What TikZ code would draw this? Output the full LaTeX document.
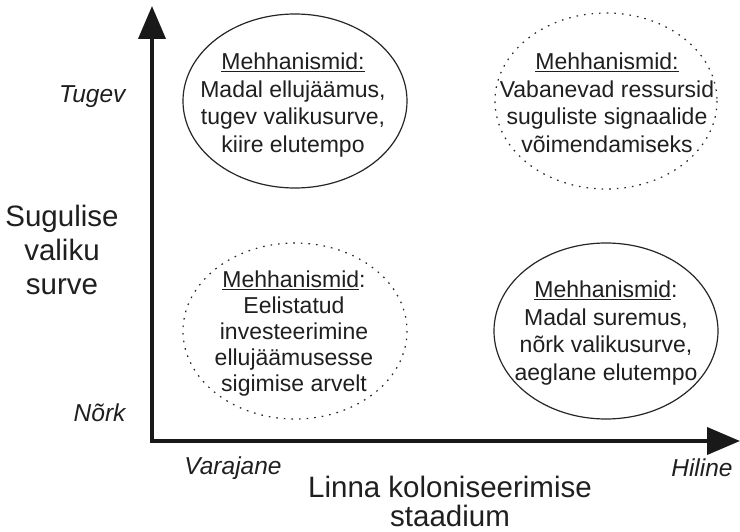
\documentclass[tikz,border=0pt]{standalone}
\usepackage{fontspec}
\setmainfont{Liberation Sans}
\usetikzlibrary{arrows.meta}
\begin{document}
\begin{tikzpicture}[x=1pt,y=-1pt,
  txt/.style={text=black!88, font=\fontsize{23}{27.5}\selectfont, align=center, inner sep=0pt},
  ring/.style={draw=black!85, line width=1.2pt},
  dotring/.style={ring, dash pattern=on 1.6pt off 6pt},
  axis/.style={line width=4pt, draw=black!90, -{Triangle[length=33pt,width=27pt]}},
  tick/.style={text=black!88, font=\fontsize{24.5}{28}\selectfont\itshape},
  big/.style={text=black!88, font=\fontsize{29.5}{34}\selectfont, align=center, inner sep=0pt}]
\useasboundingbox (0,0) rectangle (740,532);
\fill[white] (0,0) rectangle (740,532);
\coordinate (O) at (152,441);
\coordinate (Ytip) at (152,6);
\coordinate (Xtip) at (740,441);
\draw[axis] (O) -- (Ytip);
\draw[axis] ([xshift=-2pt]O) -- (Xtip);
\coordinate (c1) at (295,101);
\coordinate (c2) at (606,101);
\coordinate (c3) at (295,331);
\coordinate (c4) at (606,331);
\draw[ring] (c1) ellipse [x radius=112, y radius=87];
\draw[dotring] (c2) ellipse [x radius=111, y radius=88];
\draw[dotring] (c3) ellipse [x radius=112, y radius=88];
\draw[ring] (c4) ellipse [x radius=112, y radius=88];
\node[txt] (t1) at (293,105) {\underline{Mehhanismid:}\\Madal ellujäämus,\\tugev valikusurve,\\kiire elutempo};
\node[txt] (t2) at (607,103) {\underline{Mehhanismid:}\\Vabanevad ressursid\\suguliste signaalide\\võimendamiseks};
\node[txt, font=\fontsize{23}{26}\selectfont] (t3) at (294,334) {\underline{Mehhanismid}:\\Eelistatud\\investeerimine\\ellujäämusesse\\sigimise arvelt};
\node[txt] (t4) at (606,333) {\underline{Mehhanismid}:\\Madal suremus,\\nõrk valikusurve,\\aeglane elutempo};
\node[tick, anchor=east] (tugev) at (129,97) {Tugev};
\node[tick, anchor=east] (nork) at (129,413) {Nõrk};
\node[big] (ylab) at (62,250) {Sugulise\\valiku\\surve};
\node[tick] (var) at (233,468) {Varajane};
\node[tick] (hil) at (702,468) {Hiline};
\node[big, font=\fontsize{29.5}{29}\selectfont] (xlab) at (450,501) {Linna koloniseerimise\\staadium};
\end{tikzpicture}
\end{document}
